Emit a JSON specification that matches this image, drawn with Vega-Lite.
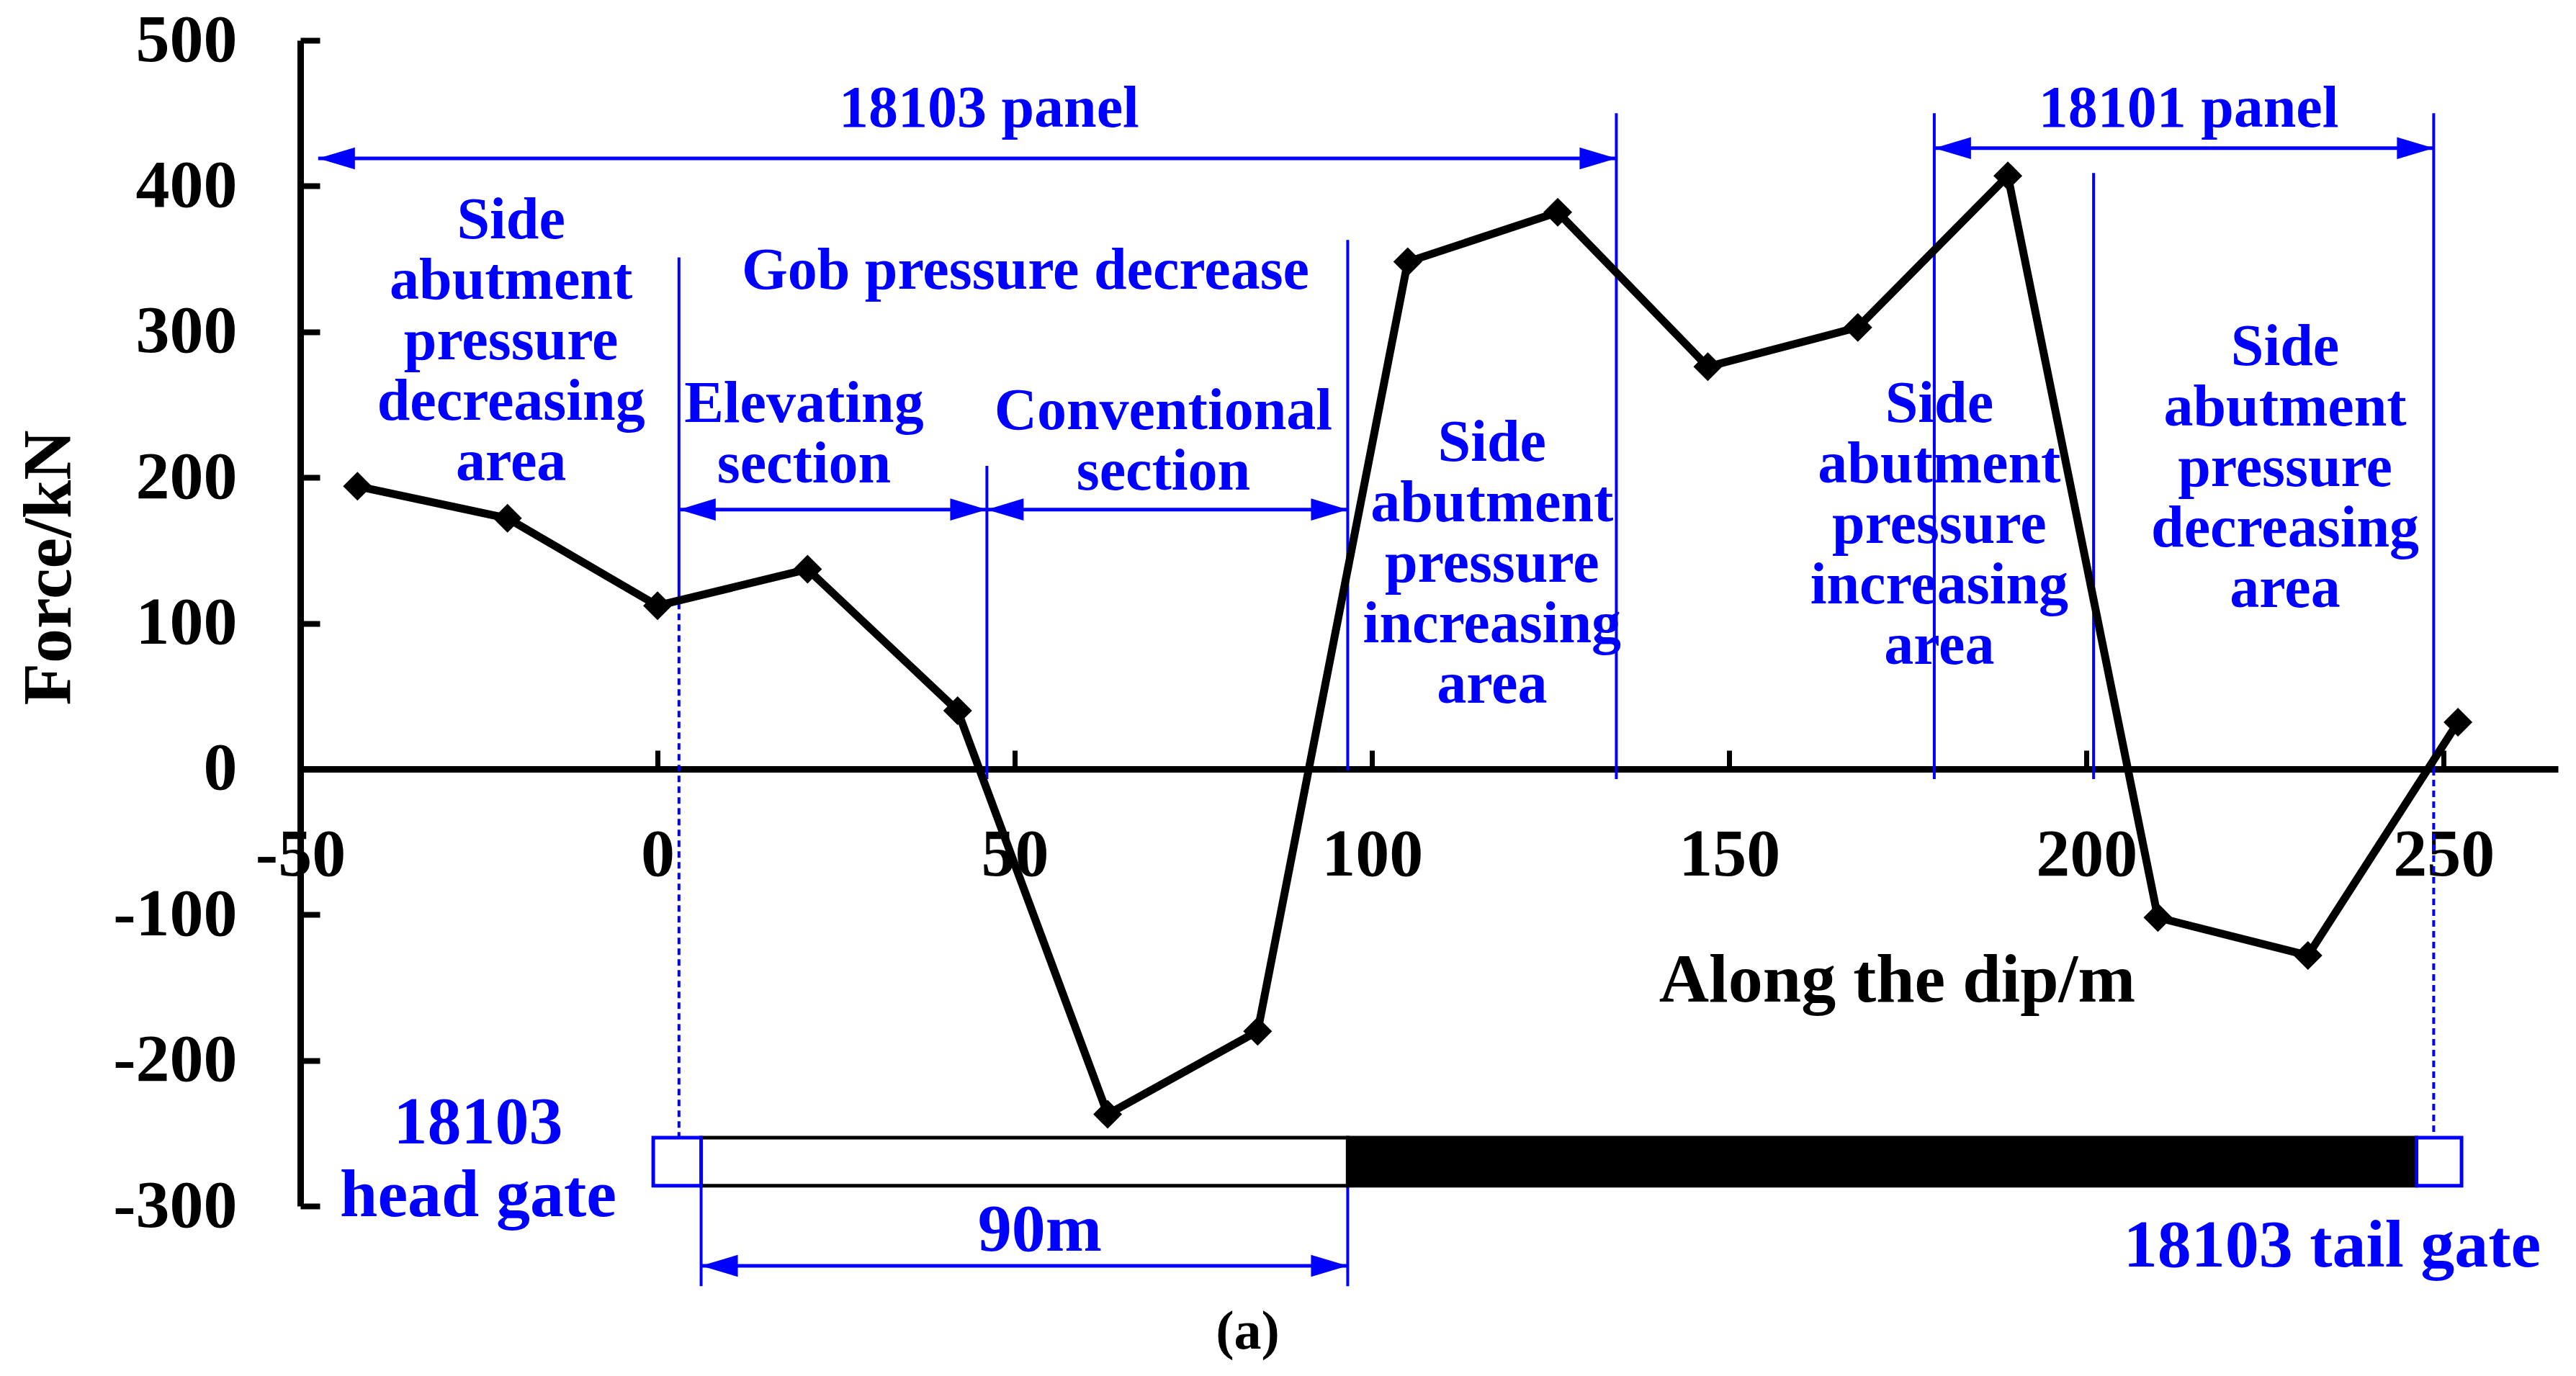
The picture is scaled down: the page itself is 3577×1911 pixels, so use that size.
{
  "$schema": "https://vega.github.io/schema/vega-lite/v6.json",
  "width": 3135,
  "height": 1619,
  "autosize": {"type": "none"},
  "padding": {"left": 417, "top": 56, "right": 25, "bottom": 236},
  "background": "white",
  "config": {"view": {"stroke": null}, "font": "Liberation Serif"},
  "datasets": {
    "force": [
      {"x": -42, "y": 194}, {"x": -21, "y": 172}, {"x": 0, "y": 112}, {"x": 21, "y": 137},
      {"x": 42, "y": 40}, {"x": 63, "y": -237}, {"x": 84, "y": -180}, {"x": 105, "y": 348},
      {"x": 126, "y": 382}, {"x": 147, "y": 276}, {"x": 168, "y": 303}, {"x": 189, "y": 407},
      {"x": 210, "y": -102}, {"x": 231, "y": -128}, {"x": 252, "y": 32}
    ],
    "vlines": [
      {"x": 3, "y": 351, "y2": 114, "style": "solid"},
      {"x": 3, "y": 114, "y2": -253, "style": "dashed"},
      {"x": 46.1, "y": 208, "y2": -7, "style": "solid"},
      {"x": 96.6, "y": 363, "y2": -1, "style": "solid"},
      {"x": 96.6, "y": -286, "y2": -355, "style": "solid"},
      {"x": 6.1, "y": -286, "y2": -355, "style": "solid"},
      {"x": 134.2, "y": 450, "y2": -7, "style": "solid"},
      {"x": 178.7, "y": 450, "y2": -7, "style": "solid"},
      {"x": 201, "y": 409, "y2": -7, "style": "solid"},
      {"x": 248.6, "y": 450, "y2": 0, "style": "solid"},
      {"x": 248.6, "y": 0, "y2": -253, "style": "dashed"}
    ],
    "harrows": [
      {"x": -47.5, "x2": 134.2, "y": 419},
      {"x": 178.7, "x2": 248.6, "y": 426},
      {"x": 3, "x2": 46.1, "y": 178},
      {"x": 46.1, "x2": 96.6, "y": 178},
      {"x": 6.1, "x2": 96.6, "y": -341}
    ],
    "heads": [
      {"x": -47.5, "y": 419, "dir": "L"}, {"x": 134.2, "y": 419, "dir": "R"},
      {"x": 178.7, "y": 426, "dir": "L"}, {"x": 248.6, "y": 426, "dir": "R"},
      {"x": 3, "y": 178, "dir": "L"}, {"x": 46.1, "y": 178, "dir": "R"},
      {"x": 46.1, "y": 178, "dir": "L"}, {"x": 96.6, "y": 178, "dir": "R"},
      {"x": 6.1, "y": -341, "dir": "L"}, {"x": 96.6, "y": -341, "dir": "R"}
    ],
    "bars": [
      {"x": 6.1, "x2": 96.6, "y": -253, "y2": -286, "kind": "open"},
      {"x": 96.6, "x2": 246.2, "y": -253, "y2": -286, "kind": "mined"},
      {"x": -0.6, "x2": 6.1, "y": -253, "y2": -286, "kind": "gate"},
      {"x": 246.2, "x2": 252.5, "y": -253, "y2": -286, "kind": "gate"}
    ],
    "notes": [
      {"x": -20.5, "y": 376.3, "label": "Side\nabutment\npressure\ndecreasing\narea"},
      {"x": 51.5, "y": 341.7, "label": "Gob pressure decrease"},
      {"x": 20.5, "y": 250.4, "label": "Elevating\nsection"},
      {"x": 70.8, "y": 245.4, "label": "Conventional\nsection"},
      {"x": 116.8, "y": 223.7, "label": "Side\nabutment\npressure\nincreasing\narea"},
      {"x": 179.4, "y": 250.4, "label": "Side\nabutment\npressure\nincreasing\narea"},
      {"x": 227.8, "y": 289.4, "label": "Side\nabutment\npressure\ndecreasing\narea"},
      {"x": 46.4, "y": 453, "label": "18103 panel"},
      {"x": 214.3, "y": 453, "label": "18101 panel"}
    ],
    "gates": [
      {"x": -25.1, "y": -243, "label": "18103\nhead gate"},
      {"x": 234.4, "y": -327.5, "label": "18103 tail gate"},
      {"x": 53.5, "y": -317, "label": "90m"}
    ],
    "caption": [
      {"x": 82.6, "y": -386.7, "label": "(a)"}
    ]
  },
  "encoding": {
    "x": {
      "field": "x", "type": "quantitative",
      "scale": {"domain": [-50, 266], "nice": false, "zero": false},
      "axis": {
        "orient": "bottom", "offset": -607,
        "values": [-50, 0, 50, 100, 150, 200, 250],
        "labelExpr": "toString(datum.value)",
        "grid": false, "domainColor": "black", "domainWidth": 9,
        "tickColor": "black", "tickWidth": 7, "tickSize": -26,
        "labelPadding": 99, "labelFont": "Liberation Serif", "labelFontWeight": "bold",
        "labelFontSize": 94, "labelColor": "black", "labelFlush": false, "labelOverlap": false,
        "labelLimit": 0, "labelBaseline": "top",
        "title": "Along the dip/m", "titleFont": "Liberation Serif", "titleFontWeight": "bold",
        "titleFontSize": 96, "titleColor": "black", "titleX": 2217, "titleY": 293,
        "titleAlign": "center", "titleBaseline": "middle"
      }
    },
    "y": {
      "field": "y", "type": "quantitative",
      "scale": {"domain": [-300, 500], "nice": false, "zero": false},
      "axis": {
        "values": [-300, -200, -100, 0, 100, 200, 300, 400, 500],
        "labelExpr": "toString(datum.value)",
        "grid": false, "domainColor": "black", "domainWidth": 9,
        "tickColor": "black", "tickWidth": 8, "tickSize": -27,
        "labelPadding": 115, "labelFont": "Liberation Serif", "labelFontWeight": "bold",
        "labelFontSize": 94, "labelColor": "black", "labelOverlap": false, "labelFlush": false,
        "labelLimit": 0,
        "title": "Force/kN", "titleFont": "Liberation Serif", "titleFontWeight": "bold",
        "titleFontSize": 96, "titleColor": "black", "titleX": -349, "titleY": 732,
        "titleAngle": -90, "titleAlign": "center", "titleBaseline": "middle"
      }
    }
  },
  "layer": [
    {
      "data": {"name": "vlines"},
      "mark": {"type": "rule", "color": "#0000FF", "strokeWidth": 4},
      "encoding": {
        "y2": {"field": "y2"},
        "strokeDash": {"field": "style", "type": "nominal", "scale": {"domain": ["solid", "dashed"], "range": [[1, 0], [9, 6]]}, "legend": null}
      }
    },
    {
      "data": {"name": "harrows"},
      "mark": {"type": "rule", "color": "#0000FF", "strokeWidth": 5},
      "encoding": {"x2": {"field": "x2"}}
    },
    {
      "data": {"name": "heads"},
      "mark": {"type": "point", "filled": true, "color": "#0000FF", "opacity": 1, "size": 2600, "strokeWidth": 0},
      "encoding": {
        "shape": {"field": "dir", "type": "nominal", "scale": {"domain": ["L", "R"], "range": ["M0,0L2,-0.6L2,0.6Z", "M0,0L-2,-0.6L-2,0.6Z"]}, "legend": null}
      }
    },
    {
      "data": {"name": "notes"},
      "mark": {"type": "text", "color": "#0000FF", "fontSize": 82, "lineHeight": 84, "fontWeight": "bold", "font": "Liberation Serif", "align": "center", "baseline": "middle", "lineBreak": "\n"},
      "encoding": {"text": {"field": "label", "type": "nominal"}}
    },
    {
      "data": {"name": "gates"},
      "mark": {"type": "text", "color": "#0000FF", "fontSize": 94, "lineHeight": 101, "fontWeight": "bold", "font": "Liberation Serif", "align": "center", "baseline": "middle", "lineBreak": "\n"},
      "encoding": {"text": {"field": "label", "type": "nominal"}}
    },
    {
      "data": {"name": "caption"},
      "mark": {"type": "text", "color": "black", "fontSize": 76, "fontWeight": "bold", "font": "Liberation Serif", "align": "center", "baseline": "middle"},
      "encoding": {"text": {"field": "label", "type": "nominal"}}
    },
    {
      "data": {"name": "bars"},
      "mark": {"type": "rect", "strokeWidth": 5, "opacity": 1},
      "encoding": {
        "x2": {"field": "x2"},
        "y2": {"field": "y2"},
        "fill": {"field": "kind", "type": "nominal", "scale": {"domain": ["gate", "open", "mined"], "range": ["white", "white", "black"]}, "legend": null},
        "stroke": {"field": "kind", "type": "nominal", "scale": {"domain": ["gate", "open", "mined"], "range": ["#0000FF", "black", "black"]}, "legend": null}
      }
    },
    {
      "data": {"name": "force"},
      "mark": {"type": "line", "color": "black", "strokeWidth": 11}
    },
    {
      "data": {"name": "force"},
      "mark": {"type": "point", "shape": "diamond", "filled": true, "color": "black", "opacity": 1, "size": 1600}
    }
  ]
}
